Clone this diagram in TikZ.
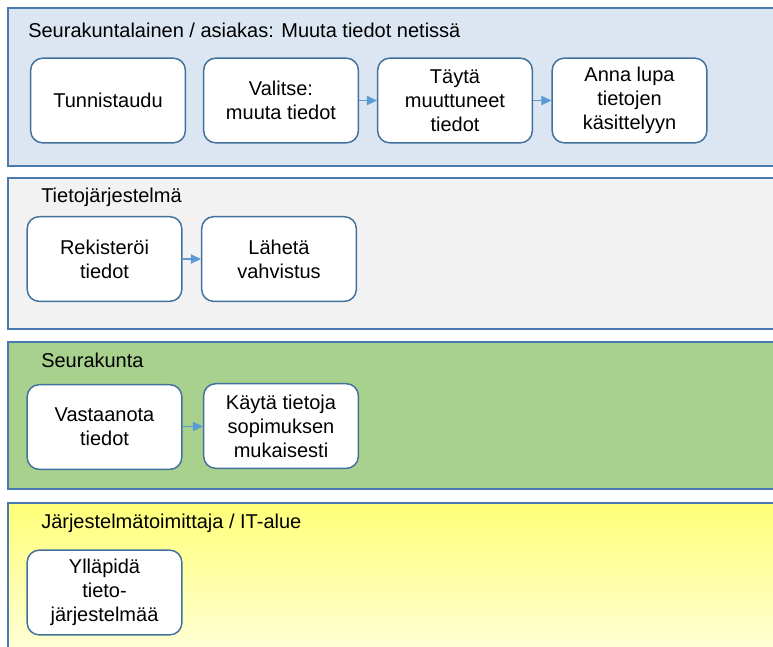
\documentclass[tikz,border=0pt]{standalone}
\usepackage{fontspec}
\setmainfont{Liberation Sans}
\usetikzlibrary{arrows.meta}

\definecolor{laneline}{HTML}{4A78B0}
\definecolor{lanecust}{HTML}{DCE6F2}
\definecolor{lanesys}{HTML}{F2F2F2}
\definecolor{lanepar}{HTML}{A9D18E}
\definecolor{laneyeltop}{HTML}{FFFF78}
\definecolor{laneyelbot}{HTML}{FFFFE2}
\definecolor{taskline}{HTML}{41719C}
\definecolor{flowblue}{HTML}{5B9BD5}

\tikzset{
  lane/.style={draw=laneline, line width=1.2pt},
  lanetitle/.style={anchor=base west, inner sep=0pt, font=\fontsize{15}{18}\selectfont},
  task/.style={draw=taskline, fill=white, rounded corners=9pt, line width=1.1pt,
    minimum width=116pt, minimum height=63.5pt, align=center, inner sep=2pt,
    font=\fontsize{15}{18}\selectfont},
  flow/.style={draw=flowblue, line width=0.8pt, -{Triangle[length=7.5pt,width=7pt]}}
}

\begin{document}
\begin{tikzpicture}[x=0.75pt, y=-0.75pt]
	\clip (0,0) rectangle (773,646);

	\filldraw[lane, fill=lanecust] (8,8) rectangle (790,166);
	\filldraw[lane, fill=lanesys] (8,178) rectangle (790,329);
	\filldraw[lane, fill=lanepar] (8,342) rectangle (790,489);
	\draw[lane, top color=laneyeltop, bottom color=laneyelbot] (8,503) rectangle (790,670);

	\node[lanetitle] (custtitle) at (28,37) {Seurakuntalainen / asiakas: Muuta tiedot netissä};
	\node[lanetitle] (systitle) at (41,202) {Tietojärjestelmä};
	\node[lanetitle] (partitle) at (41,367) {Seurakunta};
	\node[lanetitle] (suptitle) at (41,528) {Järjestelmätoimittaja / IT-alue};

	\node[task] (tunnista) at (108,100.5) {Tunnistaudu};
	\node[task] (valitse) at (281,100.5) {Valitse:\\muuta tiedot};
	\node[task] (tayta) at (455,100.5) {Täytä\\muuttuneet\\tiedot};
	\node[task] (lupa) at (629.5,100.5) {Anna lupa\\tietojen\\käsittelyyn};

	\node[task] (rekisteroi) at (104.5,259) {Rekisteröi\\tiedot};
	\node[task] (laheta) at (279,259) {Lähetä\\vahvistus};

	\node[task] (vastaanota) at (104.5,427) {Vastaanota\\tiedot};
	\node[task] (kayta) at (281,426) {Käytä tietoja\\sopimuksen\\mukaisesti};

	\node[task] (yllapida) at (104.5,592.5) {Ylläpidä\\tieto-\\järjestelmää};

	\draw[flow] (valitse) -- (tayta);
	\draw[flow] (tayta) -- (lupa);
	\draw[flow] (rekisteroi) -- (laheta);
	\draw[flow] (vastaanota) -- (kayta);
\end{tikzpicture}
\end{document}
